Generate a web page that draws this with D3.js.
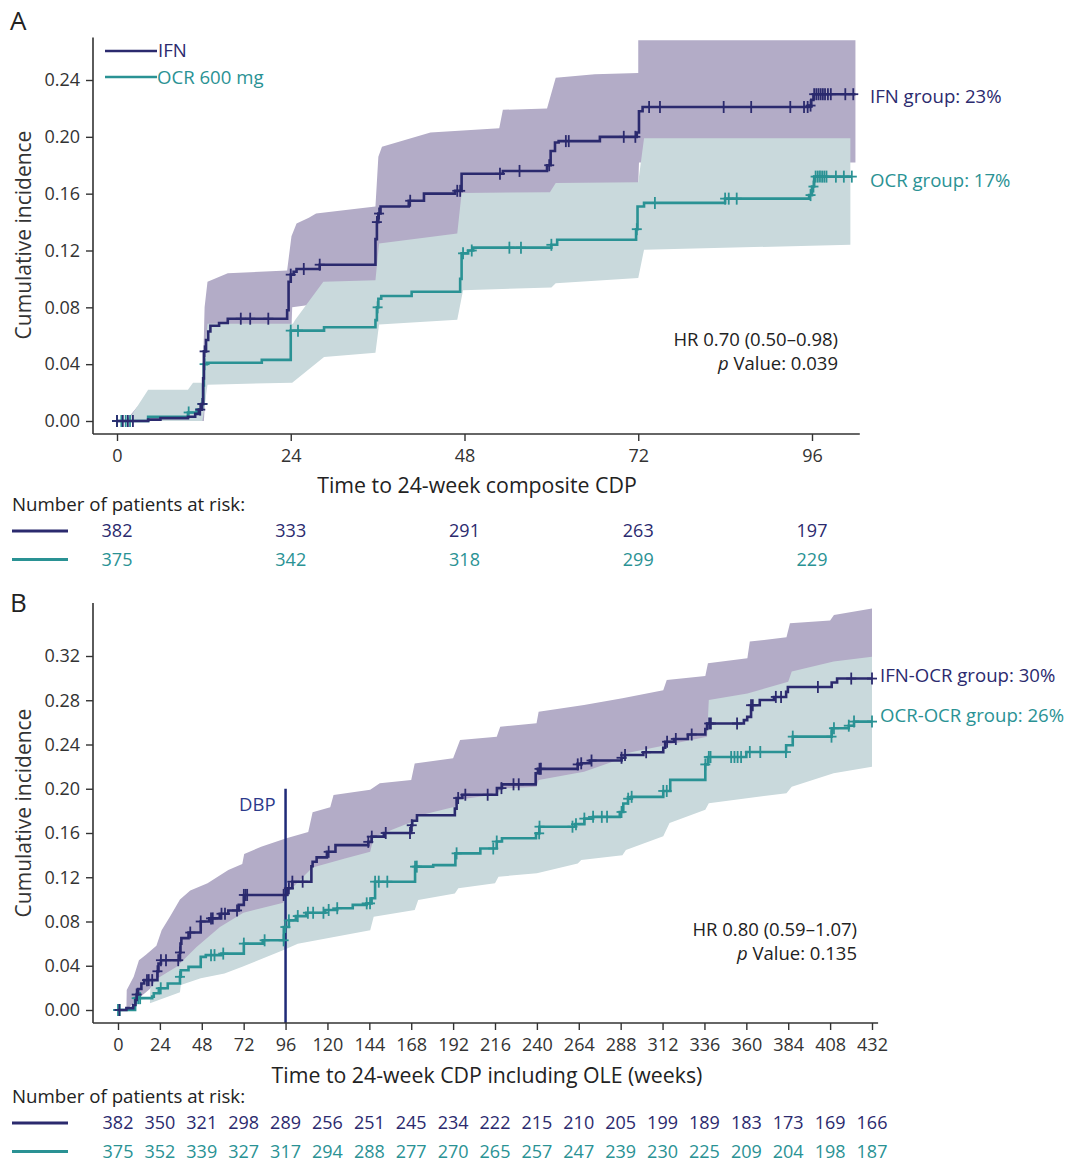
<!DOCTYPE html>
<html>
<head>
<meta charset="utf-8">
<script src="https://cdn.jsdelivr.net/npm/d3@7"></script>
<style>
  body { margin: 0; background: #fff; }
  svg { display: block; font-family: "Open Sans", sans-serif; }
</style>
</head>
<body>
<svg id="chart" width="1069" height="1162"></svg>
<script>
// ---- Daten Panel A (Doppelblindphase) ----
var ticksA = [0, 24, 48, 72, 96];

var ifnA_t = [0, 4.3, 6, 9.8, 10.8, 11.3, 11.7, 11.9, 12.0, 12.3, 12.6, 12.9, 14.1, 15.3, 23.5, 23.7, 24.0, 24.4, 24.8, 28.0,
  35.7, 35.9, 36.1, 36.4, 40.3, 42.4, 46.7, 47.6, 53.3, 59.4, 59.9, 60.5, 61.0, 66.7, 71.8, 72.1, 72.6, 95.5, 95.9, 96.2, 102];
var ifnA_v = [0, 0.001, 0.002, 0.003, 0.005, 0.008, 0.012, 0.030, 0.049, 0.057, 0.063, 0.067, 0.069, 0.072, 0.078, 0.098, 0.103, 0.105, 0.107, 0.110,
  0.128, 0.140, 0.146, 0.151, 0.155, 0.160, 0.162, 0.174, 0.176, 0.180, 0.190, 0.196, 0.197, 0.200, 0.203, 0.218, 0.221, 0.222, 0.226, 0.230, 0.230];

var ocrA_t = [0, 4.3, 9.8, 11.0, 11.7, 11.9, 12.0, 12.4, 20.0, 24.0, 28.6, 35.7, 35.9, 36.1, 36.5, 40.7, 47.4, 47.6, 48.5, 49.2,
  60.0, 60.8, 71.7, 71.9, 72.8, 84.0, 95.6, 96.0, 96.3, 101.5];
var ocrA_v = [0, 0.003, 0.006, 0.008, 0.012, 0.025, 0.040, 0.041, 0.043, 0.0636, 0.066, 0.071, 0.080, 0.086, 0.088, 0.091, 0.100, 0.118, 0.120, 0.122,
  0.124, 0.1276, 0.135, 0.151, 0.1535, 0.1565, 0.159, 0.165, 0.172, 0.172];

var ifnA_cens = [0, 0.8, 1.5, 2.2, 11.5, 11.8, 12.1, 17.1, 18.4, 20.9, 24.0, 25.8, 28.0, 35.9, 36.2, 40.5, 47.0, 47.4, 52.9, 55.6,
  59.7, 62.0, 62.4, 70.0, 71.6, 73.5, 75.0, 83.8, 87.6, 93.0, 94.9, 95.4, 95.8, 96.3, 96.6, 96.9, 97.2, 97.5, 97.8, 98.2, 98.6, 100.6, 101.7];
var ocrA_cens = [0, 0.6, 1.2, 1.8, 9.9, 11.8, 12.1, 24.0, 25.0, 36.0, 47.8, 49.0, 54.2, 55.8, 60.0, 71.8, 74.3, 84.0, 84.5, 85.6,
  95.8, 96.2, 96.5, 96.8, 97.1, 97.4, 97.7, 98.0, 99.3, 100.4, 101.5];

var ifnA_hi = [[1.2, 0], [2.8, 0.01], [4.3, 0.012], [9.8, 0.013], [11.8, 0.02], [12.1, 0.080], [12.5, 0.098], [15.3, 0.104], [23.5, 0.106],
  [24.1, 0.130], [24.8, 0.139], [26.5, 0.143], [27.5, 0.146], [35.7, 0.151], [36.1, 0.186], [36.6, 0.193], [43.3, 0.203], [52.8, 0.206],
  [53.3, 0.219], [59.4, 0.220], [60.6, 0.2415], [66.0, 0.244], [72.0, 0.245], [72.0, 0.268], [102, 0.268]];
var ifnA_lo = [[1.2, 0], [12.0, 0], [12.5, 0.040], [24.0, 0.050], [24.2, 0.080], [27.0, 0.082], [35.7, 0.084], [36.2, 0.105], [47.5, 0.110],
  [48.0, 0.130], [60.0, 0.140], [71.9, 0.150], [72.1, 0.182], [102, 0.182]];
var ocrA_hi = [[1.5, 0], [4.3, 0.022], [9.8, 0.022], [10.5, 0.027], [11.8, 0.027], [12.5, 0.0685], [24.3, 0.0685], [24.6, 0.071], [28.5, 0.098],
  [35.7, 0.099], [36.2, 0.125], [47.0, 0.132], [47.6, 0.1605], [59.8, 0.161], [60.6, 0.1675], [72.0, 0.168], [72.8, 0.199], [101.3, 0.199]];
var ocrA_lo = [[1.5, 0], [11.8, 0], [12.5, 0.0256], [24.2, 0.027], [28.6, 0.045], [35.7, 0.048], [36.2, 0.068], [47.0, 0.0713], [47.8, 0.092],
  [60.0, 0.094], [60.6, 0.097], [72.0, 0.1007], [72.8, 0.1206], [101.3, 0.124]];

var riskA_ifn = [382, 333, 291, 263, 197];
var riskA_ocr = [375, 342, 318, 299, 229];

// ---- Daten Panel B (inkl. OLE) ----
var ticksB = d3.range(0, 433, 24);

var ifnB_t = [0, 4.8, 8.7, 10.0, 10.7, 11.5, 13.4, 15.0, 22.6, 23.2, 24.6, 35.5, 35.8, 36.3, 40.4, 47.4, 52.3, 58.3, 63.2, 69.2, 72.1,
  96.9, 99.9, 110.8, 111.5, 113.8, 119.7, 124.6, 143.4, 145.3, 152.3, 168.0, 168.6, 171.3, 193.0, 194.0, 197.3, 217.1, 220.0,
  239.3, 240.6, 263.4, 265.4, 270.3, 288.5, 290.5, 301.0, 312.4, 313.5, 318.5, 326.5, 336.5, 337.5, 358.6, 360.5, 362.7, 367.7,
  375.8, 382.8, 383.8, 408.9, 412.0, 432];
var ifnB_v = [0, 0.0017, 0.0045, 0.009, 0.014, 0.019, 0.024, 0.027, 0.035, 0.042, 0.045, 0.052, 0.060, 0.065, 0.070, 0.080, 0.0828, 0.087, 0.090, 0.095, 0.104,
  0.110, 0.116, 0.130, 0.134, 0.138, 0.143, 0.149, 0.152, 0.1567, 0.160, 0.167, 0.1711, 0.176, 0.182, 0.1916, 0.1946, 0.2006, 0.204,
  0.214, 0.218, 0.222, 0.223, 0.2255, 0.228, 0.2305, 0.233, 0.237, 0.2425, 0.245, 0.249, 0.254, 0.259, 0.262, 0.265, 0.2755, 0.2802,
  0.283, 0.2876, 0.292, 0.296, 0.2996, 0.2996];

var ocrB_t = [0, 9.8, 19.6, 20.5, 23.4, 28.5, 35.5, 36.0, 40.4, 47.4, 50.3, 59.3, 72.1, 82.9, 95.0, 97.9, 101.9, 107.8, 118.7, 125.6,
  134.5, 142.5, 145.3, 147.3, 170.2, 180.6, 193.3, 207.6, 217.0, 220.0, 239.5, 241.4, 262.0, 267.2, 272.2, 287.5, 289.5, 292.2,
  294.2, 312.4, 316.4, 336.5, 338.0, 360.0, 382.8, 386.6, 408.9, 418.7, 421.7, 432];
var ocrB_v = [0, 0.0107, 0.0121, 0.0151, 0.0196, 0.024, 0.030, 0.036, 0.039, 0.048, 0.0496, 0.051, 0.060, 0.063, 0.075, 0.081, 0.0849, 0.0879, 0.0904, 0.092,
  0.095, 0.0964, 0.101, 0.116, 0.1296, 0.131, 0.1416, 0.146, 0.1523, 0.1553, 0.1597, 0.1657, 0.168, 0.173, 0.1746, 0.179, 0.1866, 0.191,
  0.1927, 0.198, 0.208, 0.222, 0.2287, 0.2332, 0.2393, 0.2471, 0.2547, 0.257, 0.2607, 0.2607];

var ifnB_cens = [0.8, 10.7, 16.6, 17.6, 19.6, 22.6, 24.6, 27.5, 34.5, 35.5, 41.4, 47.4, 53.3, 54.3, 59.3, 61.3, 68.2, 72.1, 73.1, 74.0,
  94.9, 97.9, 99.9, 105.8, 120.7, 143.4, 145.4, 153.4, 167.3, 168.3, 194.9, 199.0, 211.8, 219.7, 226.6, 229.6, 241.5, 242.3,
  263.4, 265.4, 271.3, 288.5, 290.5, 302.6, 314.6, 319.6, 328.7, 338.7, 339.7, 354.7, 362.7, 363.7, 376.9, 379.9, 401.0, 420.1, 432];
var ocrB_cens = [0, 1.0, 10.7, 11.7, 12.7, 24.5, 35.5, 53.3, 55.3, 60.3, 72.1, 84.0, 94.9, 95.9, 97.9, 103.0, 108.8, 111.8, 117.7, 120.7,
  125.6, 142.5, 144.4, 147.3, 149.4, 154.3, 170.2, 171.2, 194.0, 215.0, 217.0, 241.3, 241.5, 260.4, 262.4, 267.2, 272.2, 277.2, 280.2,
  288.5, 292.3, 294.3, 312.4, 314.4, 336.5, 338.5, 339.5, 351.3, 353.2, 355.0, 357.0, 362.0, 368.0, 382.7, 386.6, 408.8, 410.2,
  418.7, 421.7, 432];

var ifnB_hi = [[4.8, 0], [5, 0.018], [9, 0.03], [12, 0.045], [16, 0.05], [22, 0.058], [25, 0.072], [30, 0.085], [35.5, 0.100], [41.4, 0.108],
  [51.3, 0.1145], [63.2, 0.1265], [71.2, 0.132], [72.3, 0.141], [82, 0.1476], [96, 0.155], [109, 0.161], [111.5, 0.1787], [121.6, 0.1833],
  [123.5, 0.1943], [144.5, 0.199], [150, 0.205], [168, 0.2079], [170, 0.2229], [192, 0.2275], [196, 0.2441], [217, 0.247], [219, 0.2561],
  [239.8, 0.2591], [241, 0.2697], [267, 0.2757], [289, 0.2817], [312.4, 0.289], [314.4, 0.2983], [336.5, 0.302], [338, 0.3134],
  [360.6, 0.318], [362, 0.333], [383, 0.337], [385, 0.3496], [408, 0.352], [410.2, 0.357], [432, 0.363]];
var ifnB_lo = [[4.8, 0], [10.7, 0.009], [22, 0.024], [36, 0.035], [48, 0.05], [72, 0.065], [96, 0.08], [120, 0.098], [144, 0.112],
  [168, 0.128], [192, 0.145], [216, 0.16], [240, 0.17], [264, 0.18], [288, 0.19], [312, 0.20], [336, 0.21], [360, 0.225], [384, 0.24],
  [408, 0.25], [432, 0.255]];
var ocrB_hi = [[18.3, 0.006], [18.5, 0.02], [22, 0.028], [33.6, 0.039], [45, 0.057], [58.4, 0.075], [71.8, 0.088], [94.7, 0.097],
  [96.5, 0.105], [110, 0.1265], [112, 0.129], [130, 0.137], [144.5, 0.143], [146.5, 0.1563], [170, 0.171], [172, 0.1755], [193, 0.1838],
  [195, 0.19], [217, 0.195], [220, 0.2003], [239.8, 0.2018], [241, 0.2079], [267, 0.2154], [289, 0.2275], [291, 0.232], [314.4, 0.2396],
  [337.5, 0.247], [338.5, 0.2802], [360.6, 0.286], [384, 0.2968], [386, 0.3059], [410, 0.315], [432, 0.3194]];
var ocrB_lo = [[18.3, 0.006], [33.6, 0.015], [35.5, 0.016], [36, 0.0226], [47.4, 0.0286], [61, 0.033], [71.2, 0.039], [94.9, 0.0542],
  [103, 0.06], [144.5, 0.072], [146.5, 0.0843], [170, 0.0904], [172, 0.0994], [193, 0.1054], [195, 0.11], [216, 0.1145], [218, 0.1205],
  [240, 0.1236], [263.4, 0.1325], [265.4, 0.1355], [289, 0.14], [291, 0.1446], [312.4, 0.157], [316, 0.169], [336.5, 0.181],
  [338.5, 0.187], [383, 0.196], [386, 0.2018], [410, 0.2139], [432, 0.22]];

var riskB_ifn = [382, 350, 321, 298, 289, 256, 251, 245, 234, 222, 215, 210, 205, 199, 189, 183, 173, 169, 166];
var riskB_ocr = [375, 352, 339, 327, 317, 294, 288, 277, 270, 265, 257, 247, 239, 230, 225, 209, 204, 198, 187];

// Farben
var colIFN = "#2b2a6e", colOCR = "#2a9294";
var bandIFN = "#b3acc7", bandOCR = "#c9d9dc";
var axisCol = "#333";

var svg = d3.select("#chart");

/**
 * Liefert den Wert der Stufenfunktion zum Zeitpunkt t.
 */
function stepValue(ts, vs, t) {
  var i = d3.bisectRight(ts, t) - 1;
  return vs[Math.max(0, i)];
}

function drawPanel(cfg) {
  var g = svg.append("g");
  var x = cfg.x, y = cfg.y;

  // Konfidenzbänder
  var poly = d3.line().x(function(d){ return x(d[0]); }).y(function(d){ return y(d[1]); });
  cfg.bands.forEach(function(b) {
    var pts = b.hi.concat(b.lo.slice().reverse());
    g.append("path").attr("d", poly(pts) + "Z").attr("fill", b.color);
  });

  // DBP-Linie (nur B)
  if (cfg.dbp) {
    g.append("line")
      .attr("x1", x(cfg.dbp)).attr("x2", x(cfg.dbp))
      .attr("y1", y(0.20)).attr("y2", cfg.axisY)
      .attr("stroke", "#1f2a78").attr("stroke-width", 2.5);
    g.append("text").attr("x", x(cfg.dbp) - 10).attr("y", y(0.20) + 22)
      .attr("text-anchor", "end").attr("font-size", 18.5).attr("fill", "#2c3a8c").text("DBP");
  }

  // Kurven + Zensierungen
  cfg.series.forEach(function(s) {
    var pts = s.t.map(function(t, i){ return [t, s.v[i]]; });
    g.append("path")
      .attr("d", d3.line().curve(d3.curveStepAfter)
        .x(function(d){ return x(d[0]); }).y(function(d){ return y(d[1]); })(pts))
      .attr("fill", "none").attr("stroke", s.color).attr("stroke-width", 2.6);
    var c = g.append("g").attr("stroke", s.color).attr("stroke-width", 1.8);
    s.cens.forEach(function(t) {
      var cx = x(t), cy = y(stepValue(s.t, s.v, t));
      c.append("line").attr("x1", cx).attr("x2", cx).attr("y1", cy - 6).attr("y2", cy + 6);
      c.append("line").attr("x1", cx - 5).attr("x2", cx + 5).attr("y1", cy).attr("y2", cy);
    });
  });

  // Achsen
  var yAxis = g.append("g").attr("transform", "translate(" + cfg.axisX + ",0)")
    .call(d3.axisLeft(y).tickValues(cfg.yTicks).tickSize(7).tickPadding(6).tickFormat(d3.format(".2f")));
  yAxis.select(".domain").remove();
  var xAxis = g.append("g").attr("transform", "translate(0," + cfg.axisY + ")")
    .call(d3.axisBottom(x).tickValues(cfg.xTicks).tickSize(7).tickPadding(cfg.xPad).tickFormat(d3.format("d")));
  xAxis.select(".domain").remove();
  [yAxis, xAxis].forEach(function(a) {
    a.selectAll(".tick line").attr("stroke", axisCol).attr("stroke-width", 1.4);
    a.selectAll(".tick text").attr("font-size", 18).attr("fill", "#333").attr("font-family", "Open Sans");
  });
  g.append("line").attr("x1", cfg.axisX).attr("x2", cfg.axisX).attr("y1", y(cfg.yTop)).attr("y2", cfg.axisY)
    .attr("stroke", axisCol).attr("stroke-width", 1.6);
  g.append("line").attr("x1", cfg.axisX).attr("x2", x(cfg.xEnd)).attr("y1", cfg.axisY).attr("y2", cfg.axisY)
    .attr("stroke", axisCol).attr("stroke-width", 1.6);

  // Beschriftungen
  g.append("text").attr("x", 10).attr("y", cfg.letterY).attr("font-size", 26).attr("fill", "#222").text(cfg.letter);
  g.append("text").attr("transform", "translate(31," + cfg.yTitleY + ") rotate(-90)")
    .attr("text-anchor", "middle").attr("font-size", 21).attr("fill", "#333").text("Cumulative incidence");
  g.append("text").attr("x", cfg.xTitleX).attr("y", cfg.xTitleY).attr("text-anchor", "middle")
    .attr("font-size", 21.3).attr("fill", "#222").text(cfg.xTitle);

  cfg.labels.forEach(function(l) {
    g.append("text").attr("x", l.x).attr("y", l.y).attr("font-size", 18.6).attr("fill", l.color).text(l.text);
  });

  // HR und p-Wert
  var hr = g.append("g").attr("font-size", 18.5).attr("fill", "#222").attr("text-anchor", "end");
  hr.append("text").attr("x", cfg.hrX).attr("y", cfg.hrY).text(cfg.hr);
  var pv = hr.append("text").attr("x", cfg.hrX).attr("y", cfg.hrY + 24);
  pv.append("tspan").attr("font-style", "italic").text("p");
  pv.append("tspan").text(" Value: " + cfg.p);

  // Patienten unter Risiko
  g.append("text").attr("x", 12).attr("y", cfg.riskY).attr("font-size", 18.7).attr("fill", "#222")
    .text("Number of patients at risk:");
  cfg.risk.forEach(function(r, k) {
    var ry = cfg.riskY + 26 + k * 28.5;
    g.append("line").attr("x1", 12).attr("x2", 68).attr("y1", ry - 6).attr("y2", ry - 6)
      .attr("stroke", r.color).attr("stroke-width", 3);
    g.selectAll(null).data(r.values).enter().append("text")
      .attr("x", function(d, i){ return x(cfg.xTicks[i]); }).attr("y", ry)
      .attr("text-anchor", "middle").attr("font-size", 18).attr("fill", r.color)
      .text(function(d){ return d; });
  });
}

// Panel A
var xA = d3.scaleLinear().domain([0, 96]).range([117, 812]);
var yA = d3.scaleLinear().domain([0, 0.24]).range([421, 80]);
drawPanel({
  x: xA, y: yA, axisX: 93, axisY: 434, yTop: 0.27, xEnd: 102.6, xPad: 8,
  xTicks: ticksA, yTicks: [0, 0.04, 0.08, 0.12, 0.16, 0.20, 0.24],
  bands: [{ hi: ifnA_hi, lo: ifnA_lo, color: bandIFN }, { hi: ocrA_hi, lo: ocrA_lo, color: bandOCR }],
  series: [
    { t: ocrA_t, v: ocrA_v, cens: ocrA_cens, color: colOCR },
    { t: ifnA_t, v: ifnA_v, cens: ifnA_cens, color: colIFN }
  ],
  letter: "A", letterY: 30, yTitleY: 235,
  xTitle: "Time to 24-week composite CDP", xTitleX: 477, xTitleY: 493,
  labels: [
    { x: 870, y: 103, text: "IFN group: 23%", color: colIFN },
    { x: 870, y: 187, text: "OCR group: 17%", color: colOCR },
    { x: 158, y: 57, text: "IFN", color: colIFN },
    { x: 157, y: 84, text: "OCR 600 mg", color: colOCR }
  ],
  hr: "HR 0.70 (0.50\u20130.98)", p: "0.039", hrX: 838, hrY: 346,
  riskY: 511,
  risk: [{ values: riskA_ifn, color: colIFN }, { values: riskA_ocr, color: colOCR }]
});
// Legende Linien
svg.append("line").attr("x1", 105).attr("x2", 157).attr("y1", 51).attr("y2", 51).attr("stroke", colIFN).attr("stroke-width", 2.6);
svg.append("line").attr("x1", 105).attr("x2", 157).attr("y1", 77).attr("y2", 77).attr("stroke", colOCR).attr("stroke-width", 2.6);

// Panel B
var xB = d3.scaleLinear().domain([0, 432]).range([118, 872]);
var yB = d3.scaleLinear().domain([0, 0.32]).range([1010, 656]);
drawPanel({
  x: xB, y: yB, axisX: 93, axisY: 1023, yTop: 0.368, xEnd: 435.5, xPad: 8, dbp: 96,
  xTicks: ticksB, yTicks: [0, 0.04, 0.08, 0.12, 0.16, 0.20, 0.24, 0.28, 0.32],
  bands: [{ hi: ifnB_hi, lo: ifnB_lo, color: bandIFN }, { hi: ocrB_hi, lo: ocrB_lo, color: bandOCR }],
  series: [
    { t: ocrB_t, v: ocrB_v, cens: ocrB_cens, color: colOCR },
    { t: ifnB_t, v: ifnB_v, cens: ifnB_cens, color: colIFN }
  ],
  letter: "B", letterY: 612, yTitleY: 813,
  xTitle: "Time to 24-week CDP including OLE (weeks)", xTitleX: 487, xTitleY: 1083,
  labels: [
    { x: 880, y: 682, text: "IFN-OCR group: 30%", color: colIFN },
    { x: 880, y: 722, text: "OCR-OCR group: 26%", color: colOCR }
  ],
  hr: "HR 0.80 (0.59\u20131.07)", p: "0.135", hrX: 857, hrY: 936,
  riskY: 1103,
  risk: [{ values: riskB_ifn, color: colIFN }, { values: riskB_ocr, color: colOCR }]
});
</script>
</body>
</html>
